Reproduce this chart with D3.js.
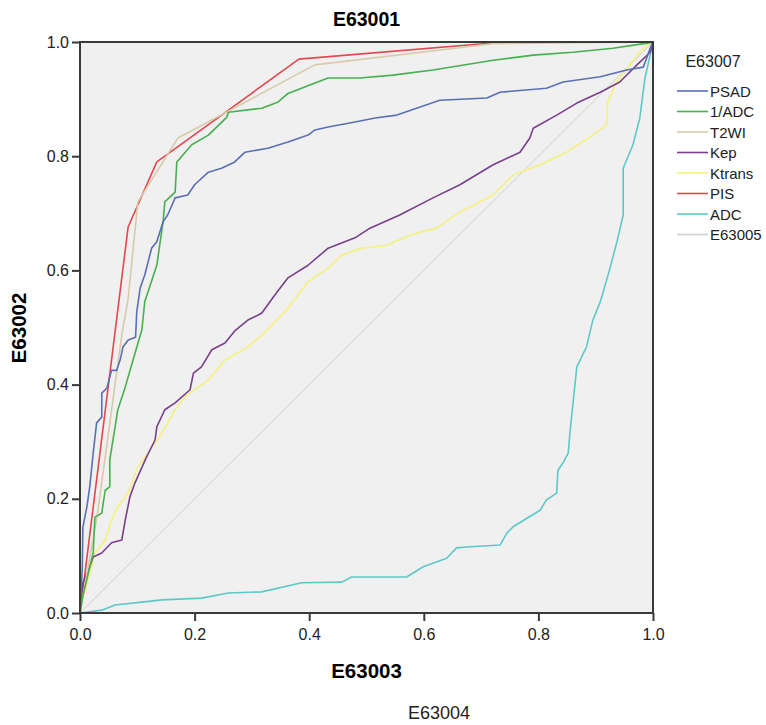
<!DOCTYPE html>
<html>
<head>
<meta charset="utf-8">
<script src="https://cdn.jsdelivr.net/npm/d3@7"></script>
<style>
  body { margin: 0; background: #fff; }
  text { font-family: "Liberation Sans", Arial, sans-serif; }
</style>
</head>
<body>
<svg class="chart" width="766" height="725"></svg>
<script>
// series names, in legend order
var seriesNames = ["PSAD", "1/ADC", "T2WI", "Kep", "Ktrans", "PIS", "ADC", "E63005"];
var seriesColors = ["#5b6fb5", "#46b04e", "#d9cba9", "#7a3f8c", "#f4f27c", "#e2474e", "#5ec8c8", "#cfcfcf"];

// ROC points [1 - specificity, sensitivity]
var psad = [[0,0],[0.004,0.08],[0.005,0.15],[0.012,0.186],[0.017,0.221],[0.023,0.28],[0.029,0.333],
  [0.038,0.343],[0.038,0.385],[0.047,0.394],[0.055,0.425],[0.064,0.425],[0.07,0.443],[0.075,0.466],
  [0.084,0.478],[0.097,0.483],[0.099,0.527],[0.105,0.569],[0.113,0.592],[0.125,0.639],
  [0.134,0.65],[0.145,0.685],[0.153,0.697],[0.166,0.727],[0.188,0.732],[0.2,0.75],[0.224,0.772],
  [0.247,0.779],[0.27,0.79],[0.288,0.807],[0.328,0.814],[0.363,0.825],[0.398,0.837],[0.41,0.846],
  [0.433,0.851],[0.48,0.86],[0.515,0.867],[0.553,0.872],[0.628,0.898],[0.71,0.902],[0.733,0.912],
  [0.814,0.919],[0.843,0.93],[0.908,0.939],[0.954,0.951],[0.983,0.956],[0.989,0.972],[0.995,0.989],[1,1]];
var invAdc = [[0,0],[0.005,0.03],[0.023,0.105],[0.026,0.168],[0.038,0.175],[0.044,0.215],[0.052,0.221],
  [0.052,0.268],[0.066,0.356],[0.079,0.396],[0.096,0.455],[0.108,0.496],[0.113,0.545],[0.134,0.609],
  [0.145,0.685],[0.148,0.72],[0.166,0.737],[0.169,0.79],[0.195,0.82],[0.224,0.837],[0.256,0.868],
  [0.259,0.877],[0.317,0.884],[0.346,0.895],[0.363,0.91],[0.41,0.928],[0.433,0.937],[0.489,0.937],
  [0.546,0.942],[0.616,0.951],[0.721,0.968],[0.791,0.977],[0.86,0.982],[0.93,0.989],[0.99,0.998],[1,1]];
var t2wi = [[0,0],[0.03,0.17],[0.073,0.487],[0.084,0.55],[0.101,0.72],[0.171,0.832],[0.41,0.96],
  [0.72,0.997],[1,1]];
var kep = [[0,0],[0.005,0.053],[0.017,0.081],[0.023,0.098],[0.038,0.105],[0.055,0.123],[0.073,0.128],
  [0.079,0.163],[0.087,0.203],[0.096,0.228],[0.116,0.273],[0.131,0.303],[0.134,0.326],[0.148,0.356],
  [0.166,0.368],[0.192,0.391],[0.198,0.42],[0.212,0.431],[0.23,0.461],[0.253,0.473],[0.27,0.494],
  [0.293,0.513],[0.317,0.525],[0.34,0.557],[0.363,0.587],[0.398,0.609],[0.433,0.639],[0.48,0.657],
  [0.506,0.674],[0.558,0.697],[0.616,0.727],[0.663,0.75],[0.721,0.785],[0.768,0.807],[0.785,0.832],
  [0.791,0.849],[0.832,0.872],[0.867,0.893],[0.908,0.912],[0.942,0.93],[0.972,0.96],[0.995,0.982],[1,1]];
var ktrans = [[0,0],[0.005,0.023],[0.017,0.07],[0.026,0.105],[0.044,0.128],[0.055,0.163],[0.066,0.186],
  [0.084,0.21],[0.101,0.256],[0.119,0.28],[0.143,0.315],[0.166,0.356],[0.183,0.379],[0.224,0.408],
  [0.253,0.443],[0.293,0.466],[0.323,0.492],[0.363,0.534],[0.398,0.58],[0.433,0.604],[0.457,0.627],
  [0.492,0.639],[0.535,0.644],[0.576,0.662],[0.622,0.674],[0.663,0.702],[0.721,0.732],[0.756,0.767],
  [0.803,0.785],[0.849,0.807],[0.895,0.837],[0.919,0.855],[0.921,0.895],[0.937,0.93],[0.972,0.977],
  [0.989,0.995],[1,1]];
var pis = [[0,0],[0.084,0.676],[0.134,0.79],[0.382,0.97],[0.74,1],[1,1]];
var adc = [[0,0],[0.038,0.005],[0.061,0.014],[0.108,0.019],[0.143,0.023],[0.212,0.026],[0.259,0.035],
  [0.317,0.037],[0.387,0.053],[0.457,0.054],[0.474,0.063],[0.57,0.063],[0.599,0.081],[0.64,0.096],
  [0.657,0.114],[0.681,0.116],[0.733,0.119],[0.745,0.14],[0.756,0.151],[0.78,0.166],[0.803,0.18],
  [0.814,0.198],[0.832,0.21],[0.834,0.25],[0.843,0.263],[0.852,0.28],[0.855,0.315],[0.861,0.373],
  [0.867,0.431],[0.884,0.466],[0.895,0.513],[0.908,0.545],[0.925,0.604],[0.937,0.65],[0.948,0.697],
  [0.948,0.779],[0.965,0.82],[0.977,0.867],[0.986,0.937],[0.995,0.977],[1,1]];
var reference = [[0,0],[1,1]];

var tickValues = [0, 0.2, 0.4, 0.6, 0.8, 1.0];

var seriesData = [psad, invAdc, t2wi, kep, ktrans, pis, adc, reference];

// plot area
var margin = {top: 42, left: 80, right: 113, bottom: 112},
    width = 766 - margin.left - margin.right,
    height = 725 - margin.top - margin.bottom;

var svg = d3.select(".chart");
var g = svg.append("g").attr("transform", "translate(" + margin.left + "," + margin.top + ")");

var x = d3.scaleLinear().domain([0, 1]).range([0, width]);
var y = d3.scaleLinear().domain([0, 1]).range([height, 0]);

g.append("rect").attr("width", width).attr("height", height).attr("fill", "#f0f0f0");

var line = d3.line().x(function(d) { return x(d[0]); }).y(function(d) { return y(d[1]); });

// reference first, then the curves backwards so PSAD ends on top
var order = [7, 6, 5, 4, 3, 2, 1, 0];
order.forEach(function(i) {
    g.append("path")
        .datum(seriesData[i])
        .attr("d", line)
        .attr("fill", "none")
        .attr("stroke", seriesColors[i])
        .attr("stroke-width", i === 7 ? 1 : 1.6)
        .attr("stroke-linejoin", "round");
});

// frame
g.append("rect").attr("width", width).attr("height", height)
    .attr("fill", "none").attr("stroke", "#3a3a3a").attr("stroke-width", 2);

var fmt = d3.format(".1f");
var xAxis = g.append("g").attr("transform", "translate(0," + height + ")")
    .call(d3.axisBottom(x).tickValues(tickValues).tickFormat(fmt).tickSize(8).tickPadding(8));
var yAxis = g.append("g")
    .call(d3.axisLeft(y).tickValues(tickValues).tickFormat(fmt).tickSize(8).tickPadding(3));
[xAxis, yAxis].forEach(function(a) {
    a.select(".domain").remove();
    a.selectAll(".tick line").attr("stroke", "#3a3a3a").attr("stroke-width", 2);
    a.selectAll(".tick text").attr("fill", "#222").style("font-size", "16px")
        .style("font-family", "'Liberation Sans', Arial, sans-serif");
});

// titles
svg.append("text").attr("x", margin.left + width / 2).attr("y", 26)
    .attr("text-anchor", "middle").style("font-size", "19.5px").style("font-weight", "bold")
    .text("E63001");
svg.append("text").attr("x", margin.left + width / 2).attr("y", 678)
    .attr("text-anchor", "middle").style("font-size", "20.5px").style("font-weight", "bold")
    .text("E63003");
svg.append("text").attr("transform", "translate(26,328) rotate(-90)")
    .attr("text-anchor", "middle").style("font-size", "20.5px").style("font-weight", "bold")
    .text("E63002");
svg.append("text").attr("x", 439).attr("y", 719)
    .attr("text-anchor", "middle").style("font-size", "18px").attr("fill", "#222")
    .text("E63004");

// legend
var legend = svg.append("g").attr("transform", "translate(677,0)");
legend.append("text").attr("x", 36).attr("y", 67).attr("text-anchor", "middle")
    .style("font-size", "16px").attr("fill", "#222").text("E63007");
seriesNames.forEach(function(name, i) {
    var yy = 91 + i * 20.5;
    legend.append("line").attr("x1", 0).attr("x2", 31).attr("y1", yy).attr("y2", yy)
        .attr("stroke", seriesColors[i]).attr("stroke-width", 1.6);
    legend.append("text").attr("x", 33).attr("y", yy + 5.5)
        .style("font-size", "15px").attr("fill", "#222").text(name);
});
</script>
</body>
</html>
